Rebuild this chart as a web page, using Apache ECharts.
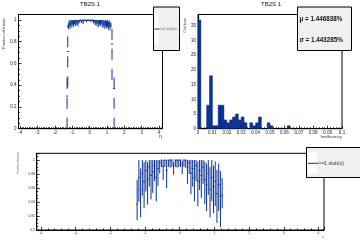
<!DOCTYPE html>
<html>
<head>
<meta charset="utf-8">
<script src="https://cdn.jsdelivr.net/npm/echarts@6/dist/echarts.min.js"></script>
<style>
  html, body { margin: 0; padding: 0; background: #fff; }
  #chart { width: 360px; height: 240px; }
</style>
</head>
<body>
<div id="chart"></div>
<script>
// efficiency vs eta, 0.05 wide bins from -1.25 to 1.25
const etaStart = -1.25;
const etaWidth = 0.05;
const effValues = [
  0.937, 0.975, 0.958, 0.981, 0.969, 0.985, 0.972, 0.990, 0.978,
  0.983, 0.992, 0.975, 0.988, 0.996, 1.0, 0.991, 1.0, 0.985, 1.0,
  1.0, 1.0, 0.993, 1.0, 1.0, 1.0, 1.0, 0.994, 1.0, 1.0,
  0.990, 0.996, 0.981, 0.988, 0.975, 0.992, 0.970, 0.985, 0.978, 0.990,
  0.972, 0.965, 0.980, 0.958, 0.975, 0.962, 0.970, 0.952, 0.965, 0.948, 0.950
];
const effErrLow = [
  0.023, 0.035, 0.040, 0.032, 0.038, 0.030, 0.036, 0.028, 0.034,
  0.030, 0.022, 0.034, 0.025, 0.015, 0.010, 0.020, 0.010, 0.025, 0.010,
  0.011, 0.010, 0.014, 0.010, 0.011, 0.010, 0.010, 0.014, 0.010, 0.011,
  0.024, 0.016, 0.030, 0.026, 0.034, 0.022, 0.036, 0.028, 0.032, 0.024,
  0.035, 0.038, 0.030, 0.040, 0.034, 0.038, 0.036, 0.042, 0.038, 0.044, 0.019
];
const effErrHigh = [
  0.035, 0.025, 0.030, 0.019, 0.028, 0.015, 0.025, 0.010, 0.022,
  0.017, 0.008, 0.025, 0.012, 0.004, 0, 0.009, 0, 0.015, 0,
  0, 0, 0.005, 0, 0, 0, 0, 0.005, 0, 0,
  0.010, 0.004, 0.019, 0.012, 0.025, 0.008, 0.028, 0.015, 0.022, 0.010,
  0.026, 0.030, 0.020, 0.032, 0.025, 0.030, 0.028, 0.034, 0.030, 0.036, 0.024
];

// bins at the edge of the acceptance (dashed on the top pad)
const edgeEta = [-1.26, -1.30, 1.29, 1.41];
const edgeEff = [0.71, 0.30, 0.78, 0.37];
const edgeErrLow = [0.33, 0.30, 0.33, 0.37];
const edgeErrHigh = [0.24, 0.25, 0.17, 0.18];

// inefficiency histogram, 0.002 wide bins from 0 to 0.1
const ineffStart = 0;
const ineffWidth = 0.002;
const ineffCounts = [
  37, 0, 0, 8, 18, 1, 1, 8, 8, 3,
  2, 3, 4, 5, 3, 4, 2, 0, 2, 1,
  2, 4, 0, 0, 2, 1, 0, 0, 0, 0,
  0, 1, 0, 0, 0, 0, 0, 0, 0, 0,
  0, 0, 0, 0, 0, 0, 0, 0, 0, 0
];

const padTitle = "TB2S 1";
const legendLabel = ">=1 stub(s)";
const statLines = ["\u03bc = 1.446838%", "\u03c3 = 1.443285%"];

const blue = "#0b3193";
const font = "Liberation Sans, Arial, sans-serif";

const mainData = effValues.map((v, i) => [
  etaStart + (i + 0.5) * etaWidth, v, effErrLow[i], effErrHigh[i], etaWidth / 2
]);
const edgeData = edgeEta.map((e, i) => [e, edgeEff[i], edgeErrLow[i], edgeErrHigh[i], 0.06]);
const histData = ineffCounts.map((c, i) => [ineffStart + i * ineffWidth, ineffStart + (i + 1) * ineffWidth, c]);

function errBars(dash) {
  return function (params, api) {
    const x = api.value(0), y = api.value(1);
    const pLo = api.coord([x, y - api.value(2)]);
    const pHi = api.coord([x, y + api.value(3)]);
    const pL = api.coord([x - api.value(4), y]);
    const pR = api.coord([x + api.value(4), y]);
    const st = { stroke: blue, lineWidth: 1, lineDash: dash };
    return {
      type: "group",
      children: [
        { type: "line", shape: { x1: pLo[0], y1: pLo[1], x2: pHi[0], y2: pHi[1] }, style: st },
        { type: "line", shape: { x1: pL[0], y1: pL[1], x2: pR[0], y2: pR[1] }, style: { stroke: blue, lineWidth: 1 } },
      ],
    };
  };
}

function histRender(params, api) {
  if (api.value(2) <= 0) return null;
  const p0 = api.coord([api.value(0), api.value(2)]);
  const p1 = api.coord([api.value(1), 0]);
  return {
    type: "rect",
    shape: { x: p0[0], y: p0[1], width: p1[0] - p0[0], height: p1[1] - p0[1] },
    style: { fill: blue, stroke: "#082a80", lineWidth: 0.5 },
  };
}

function onMultiple(step, v) {
  const r = v / step;
  return Math.abs(r - Math.round(r)) < 1e-6;
}

function axis(gridIndex, opts, fs, minorN, step, labelMargin) {
  return Object.assign({
    type: "value",
    gridIndex,
    axisLine: { show: true, onZero: false, lineStyle: { color: "#000", width: 1 } },
    axisTick: { show: true, inside: true, length: 3, lineStyle: { color: "#000", width: 0.8 } },
    minorTick: { show: true, splitNumber: minorN, length: 1.5, lineStyle: { color: "#000", width: 0.8 } },
    splitLine: { show: false },
    axisLabel: {
      fontSize: fs, color: "#222", fontFamily: font, margin: labelMargin,
      formatter: (v) => (onMultiple(step, v) ? String(+v.toFixed(6)) : ""),
    },
  }, opts);
}

const chart = echarts.init(document.getElementById("chart"), null, { renderer: "canvas" });

chart.setOption({
  backgroundColor: "#fff",
  animation: false,
  grid: [
    { left: 18.5, top: 14.5, width: 144, height: 114.2, show: true, borderColor: "#000", borderWidth: 1 },
    { left: 198, top: 14.5, width: 144, height: 114.2, show: true, borderColor: "#000", borderWidth: 1 },
    { left: 36.7, top: 153.3, width: 287.3, height: 76.7, show: true, borderColor: "#000", borderWidth: 1 },
  ],
  xAxis: [
    axis(0, { min: -4.1, max: 4.2, splitNumber: 8 }, 4.5, 10, 1, 1.5),
    axis(1, { min: 0, max: 0.1, interval: 0.01 }, 4.5, 5, 0.01, 1.5),
    axis(2, { min: -4.12, max: 4.16, splitNumber: 8 }, 3.2, 5, 1, 1.5),
  ],
  yAxis: [
    axis(0, { min: 0, max: 1.05, interval: 0.2 }, 4.5, 4, 0.2, 2),
    axis(1, { min: 0, max: 38.85, interval: 5 }, 4.5, 5, 5, 2),
    axis(2, { min: 0.9, max: 1.0096, interval: 0.02 }, 3.2, 4, 0.02, 2),
  ],
  series: [
    { type: "custom", xAxisIndex: 0, yAxisIndex: 0, renderItem: errBars(null), data: mainData, clip: true },
    { type: "custom", xAxisIndex: 0, yAxisIndex: 0, renderItem: errBars([11, 9]), data: edgeData, clip: true },
    { type: "custom", xAxisIndex: 1, yAxisIndex: 1, renderItem: histRender, data: histData, clip: true },
    { type: "custom", xAxisIndex: 2, yAxisIndex: 2, renderItem: errBars(null), data: mainData, clip: true },
  ],
  graphic: [
    // pad titles
    { type: "text", x: 90, y: 4.5, style: { text: padTitle, fontSize: 6, fontFamily: font, fill: "#111", align: "center", verticalAlign: "middle", textAlign: "center", textVerticalAlign: "middle" } },
    { type: "text", x: 271, y: 4.5, style: { text: padTitle, fontSize: 6, fontFamily: font, fill: "#111", align: "center", verticalAlign: "middle", textAlign: "center", textVerticalAlign: "middle" } },
    // axis titles
    { type: "text", x: 4, y: 18, rotation: Math.PI / 2, style: { text: "Fraction of tracks", fontSize: 4, fontFamily: font, fill: "#333", align: "right", verticalAlign: "middle", textAlign: "right", textVerticalAlign: "middle" } },
    { type: "text", x: 185, y: 18, rotation: Math.PI / 2, style: { text: "Cnt bins", fontSize: 4, fontFamily: font, fill: "#333", align: "right", verticalAlign: "middle", textAlign: "right", textVerticalAlign: "middle" } },
    { type: "text", x: 18, y: 152, rotation: Math.PI / 2, style: { text: "Fraction of tracks", fontSize: 2.8, fontFamily: font, fill: "#777", align: "right", verticalAlign: "middle", textAlign: "right", textVerticalAlign: "middle" } },
    { type: "text", x: 160.5, y: 136.5, style: { text: "\u03b7", fontSize: 5, fontFamily: font, fill: "#333", align: "center", verticalAlign: "middle", textAlign: "center", textVerticalAlign: "middle" } },
    { type: "text", x: 342, y: 137.3, style: { text: "Inefficiency", fontSize: 4.3, fontFamily: font, fill: "#333", align: "right", verticalAlign: "middle", textAlign: "right", textVerticalAlign: "middle" } },
    { type: "text", x: 323, y: 237.5, style: { text: "\u03b7", fontSize: 3.5, fontFamily: font, fill: "#777", align: "center", verticalAlign: "middle", textAlign: "center", textVerticalAlign: "middle" } },
    // top-left legend
    { type: "rect", shape: { x: 153.5, y: 7, width: 26, height: 43.5 }, style: { fill: "#f0f0f0", stroke: "#000", lineWidth: 1 } },
    { type: "rect", shape: { x: 154.5, y: 12.5, width: 4, height: 30 }, style: { fill: "#fff" } },
    { type: "line", shape: { x1: 154.5, y1: 29, x2: 159.5, y2: 29 }, style: { stroke: blue, lineWidth: 1 } },
    { type: "text", x: 160, y: 29, style: { text: legendLabel, fontSize: 3.3, fontFamily: font, fill: "#666", align: "left", verticalAlign: "middle", textAlign: "left", textVerticalAlign: "middle" } },
    // top-right stat box
    { type: "rect", shape: { x: 297.5, y: 7, width: 54, height: 43.5 }, style: { fill: "#f0f0f0", stroke: "#000", lineWidth: 1 } },
    { type: "text", x: 299.5, y: 19, style: { text: statLines[0], fontSize: 6.3, fontWeight: "bold", fontFamily: font, fill: "#111", align: "left", verticalAlign: "middle", textAlign: "left", textVerticalAlign: "middle" } },
    { type: "text", x: 299.5, y: 40.3, style: { text: statLines[1], fontSize: 6.3, fontWeight: "bold", fontFamily: font, fill: "#111", align: "left", verticalAlign: "middle", textAlign: "left", textVerticalAlign: "middle" } },
    // bottom legend
    { type: "rect", shape: { x: 306.5, y: 147.5, width: 54, height: 30 }, style: { fill: "#f0f0f0", stroke: "#000", lineWidth: 1 } },
    { type: "rect", shape: { x: 308, y: 152.7, width: 8.7, height: 20.6 }, style: { fill: "#fff" } },
    { type: "line", shape: { x1: 308, y1: 163.3, x2: 318.3, y2: 163.3 }, style: { stroke: blue, lineWidth: 1 } },
    { type: "text", x: 318.5, y: 163.5, style: { text: legendLabel, fontSize: 5, fontFamily: font, fill: "#333", align: "left", verticalAlign: "middle", textAlign: "left", textVerticalAlign: "middle" } },
  ],
});
</script>
</body>
</html>
